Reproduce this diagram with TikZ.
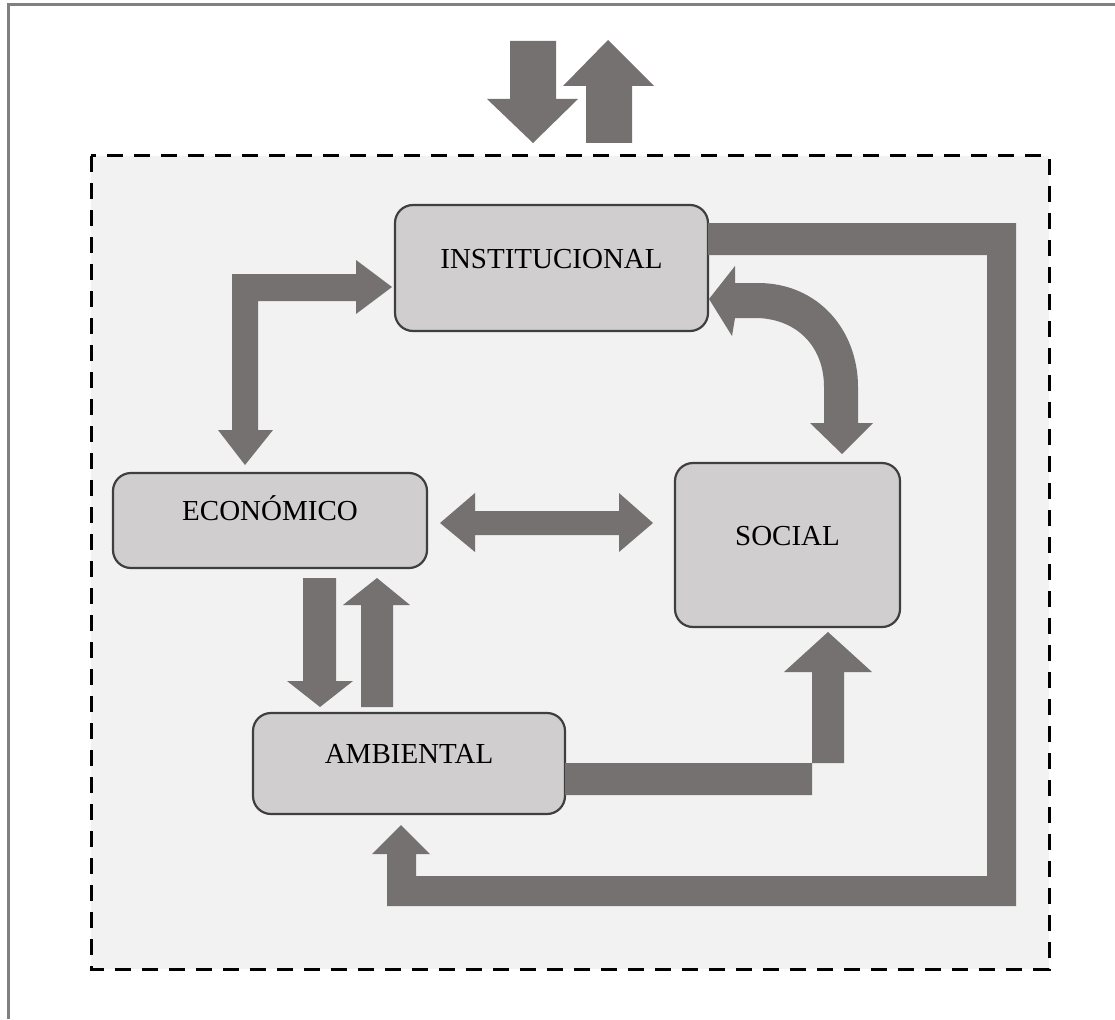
\documentclass[tikz,border=0pt]{standalone}
\usepackage{fontspec}
\setmainfont{Liberation Serif}
\definecolor{arrowgray}{HTML}{767171}
\definecolor{boxfill}{HTML}{D0CECE}
\definecolor{boxline}{HTML}{3F3F3F}
\definecolor{panel}{HTML}{F2F2F2}
\definecolor{framegray}{HTML}{808080}
\begin{document}
\begin{tikzpicture}[x=1pt,y=-1pt,
  box/.style={draw=boxline, fill=boxfill, line width=2.2pt, rounded corners=18pt, inner sep=0pt},
  lbl/.style={font=\fontsize{29}{29}\selectfont, anchor=base, inner sep=0pt},
  blk/.style={fill=arrowgray, draw=none},
  panelbox/.style={fill=panel, draw=black, line width=3pt, dash pattern=on 16pt off 11pt},
  outerframe/.style={draw=framegray, line width=3pt}]
\useasboundingbox (0,0) rectangle (1115,1019);
\fill[white] (0,0) rectangle (1115,1019);
\draw[outerframe] (8,1019) -- (8,5) -- (1115,5);
\draw[panelbox] (91,156) rectangle (1049,969);

% top arrows (in / out)
\fill[blk] (510,41) -- (556,41) -- (556,99) -- (578,99) -- (533,143) -- (487,99) -- (510,99) -- cycle;
\fill[blk] (586,143) -- (632,143) -- (632,86) -- (654,86) -- (608,40) -- (563,86) -- (586,86) -- cycle;

% boxes
\node[box, minimum width=313pt, minimum height=126pt] (inst) at (551.5,268) {};
\node[box, minimum width=314pt, minimum height=95pt] (econ) at (270,520.5) {};
\node[box, minimum width=225pt, minimum height=164pt] (social) at (787.5,545) {};
\node[box, minimum width=312pt, minimum height=101pt] (amb) at (409,763.5) {};

\node[lbl] (instt) at (inst.center) {INSTITUCIONAL};
\node[lbl] (econt) at (econ.center) {ECONÓMICO};
\node[lbl] (socialt) at (social.center) {SOCIAL};
\node[lbl] (ambt) at (amb.center) {AMBIENTAL};

% econ <-> inst elbow
\fill[blk] (392,287) -- (356,260) -- (356,274) -- (232,274) -- (232,430) -- (218,430) -- (245,465) -- (273,430) -- (258,430) -- (258,301) -- (356,301) -- (356,314) -- cycle;

% econ <-> social
\fill[blk] (440,523) -- (475,493) -- (475,511) -- (619,511) -- (619,493) -- (653,523) -- (619,552) -- (619,535) -- (475,535) -- (475,552) -- cycle;

% econ -> amb, amb -> econ
\fill[blk] (303,578) -- (336,578) -- (336,681) -- (353,681) -- (320,707) -- (287,681) -- (303,681) -- cycle;
\fill[blk] (361,707) -- (393,707) -- (393,605) -- (410,605) -- (377,578) -- (343,605) -- (361,605) -- cycle;

% inst <-> social curved
\fill[blk] (709,299) -- (735,266) -- (735,283) -- (758,283)
  .. controls (818,283) and (858,330) .. (858,387) -- (858,423) -- (873,423) -- (842,454) -- (810,423) -- (824,423) -- (824,387)
  .. controls (824,345) and (795,318) .. (755,318) -- (735,318) -- (732,336) -- cycle;

% amb -> social elbow
\fill[blk] (565,763) -- (844,763) -- (844,672) -- (872,672) -- (828,632) -- (784,672) -- (812,672) -- (812,795) -- (565,795) -- cycle;

% inst -> amb loop
\fill[blk] (708,223) -- (1016,223) -- (1016,906) -- (387,906) -- (387,854) -- (372,854) -- (401,825) -- (430,854) -- (416,854) -- (416,876) -- (987,876) -- (987,255) -- (708,255) -- cycle;
\end{tikzpicture}
\end{document}
